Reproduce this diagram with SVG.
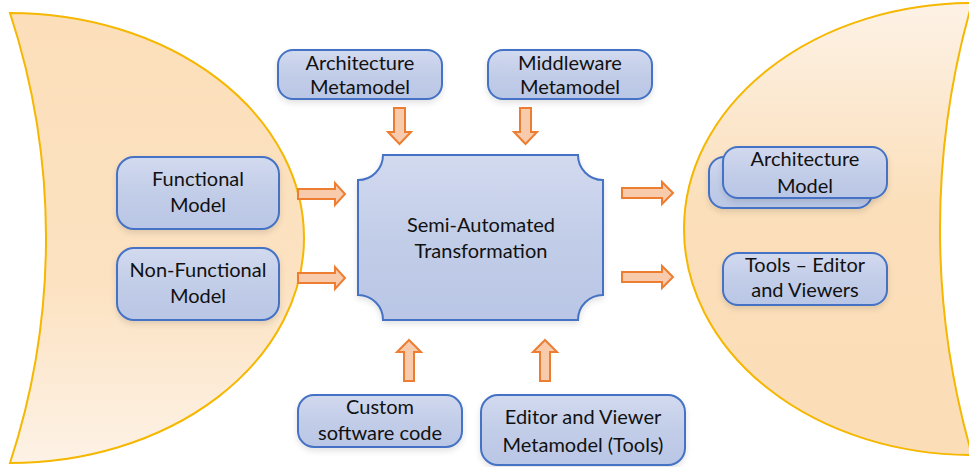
<svg xmlns="http://www.w3.org/2000/svg" width="969" height="467" viewBox="0 0 969 467">
<defs>
<linearGradient id="gL" x1="0" y1="0" x2="0" y2="1"><stop offset="0" stop-color="#fcdfba"/><stop offset="0.6" stop-color="#fce2c1"/><stop offset="1" stop-color="#fdf2e6"/></linearGradient>
<linearGradient id="gR" x1="0" y1="0" x2="0" y2="1"><stop offset="0" stop-color="#fdf2e6"/><stop offset="0.45" stop-color="#fbdfba"/><stop offset="1" stop-color="#fbdeb8"/></linearGradient>
<linearGradient id="gB" x1="0" y1="0" x2="0" y2="1"><stop offset="0" stop-color="#d2daef"/><stop offset="0.5" stop-color="#c2cde8"/><stop offset="1" stop-color="#b9c6e5"/></linearGradient>
<filter id="sh" x="-10%" y="-10%" width="120%" height="130%"><feGaussianBlur in="SourceAlpha" stdDeviation="3"/><feOffset dy="3"/><feComponentTransfer><feFuncA type="linear" slope="0.12"/></feComponentTransfer><feMerge><feMergeNode/><feMergeNode in="SourceGraphic"/></feMerge></filter>
</defs>
<style>
.crescent{stroke:#f5b700;stroke-width:2}
.box{fill:url(#gB);stroke:#4472c4;stroke-width:2;filter:url(#sh)}
.lbl{font-family:Lato,"Open Sans","Liberation Sans",sans-serif;font-size:20px;fill:#111;text-anchor:middle}
.arr{fill:#f8cbad;stroke:#ed7d31;stroke-width:2;stroke-linejoin:miter}
</style>
<g id="left-region">
<path class="crescent" fill="url(#gL)" d="M10 13 A294 225 0 0 1 10 463 A721 721 0 0 0 10 13 Z"/>
</g>
<g id="right-region">
<path class="crescent" fill="url(#gR)" d="M972 3 A288 226 0 0 0 972 455 A814 814 0 0 1 972 3 Z"/>
</g>
<g id="connectors">
<path class="arr" d="M298 189 H335 V183 L345 194 L335 205 V199 H298 Z"/>
<path class="arr" d="M298 273 H335 V267 L345 278 L335 289 V283 H298 Z"/>
<path class="arr" d="M622 188 H662 V182 L673 193 L662 204 V198 H622 Z"/>
<path class="arr" d="M622 272 H662 V266 L673 277 L662 288 V282 H622 Z"/>
<path class="arr" d="M394 108 H405 V132 H411 L399.5 144 L388 132 H394 Z"/>
<path class="arr" d="M520 108 H531 V132 H537 L525.5 144 L514 132 H520 Z"/>
<path class="arr" d="M404 381 H414 V352 H421 L409 340 L397 352 H404 Z"/>
<path class="arr" d="M540 381 H550 V352 H557 L545 340 L533 352 H540 Z"/>
</g>
<g id="functional-model">
<rect class="box" x="117" y="157" width="162" height="72" rx="17"/>
<text class="lbl" x="198" y="186">Functional</text>
<text class="lbl" x="198" y="212">Model</text>
</g>
<g id="non-functional-model">
<rect class="box" x="117" y="248" width="162" height="72" rx="17"/>
<text class="lbl" x="198" y="277">Non-Functional</text>
<text class="lbl" x="198" y="303">Model</text>
</g>
<g id="architecture-metamodel">
<rect class="box" x="278" y="50" width="164" height="49" rx="15"/>
<text class="lbl" x="360" y="70">Architecture</text>
<text class="lbl" x="360" y="94">Metamodel</text>
</g>
<g id="middleware-metamodel">
<rect class="box" x="488" y="50" width="164" height="49" rx="15"/>
<text class="lbl" x="570" y="70">Middleware</text>
<text class="lbl" x="570" y="94">Metamodel</text>
</g>
<g id="semi-automated-transformation">
<path class="box" d="M383 155 H578 A25 25 0 0 0 603 180 V295 A25 25 0 0 0 578 320 H383 A25 25 0 0 0 358 295 V180 A25 25 0 0 0 383 155 Z"/>
<text class="lbl" x="481" y="232">Semi-Automated</text>
<text class="lbl" x="481" y="258">Transformation</text>
</g>
<g id="custom-software-code">
<rect class="box" x="298" y="395" width="164" height="52" rx="16"/>
<text class="lbl" x="380" y="414">Custom</text>
<text class="lbl" x="380" y="440">software code</text>
</g>
<g id="editor-viewer-metamodel">
<rect class="box" x="481" y="395" width="204" height="70" rx="17"/>
<text class="lbl" x="583" y="424">Editor and Viewer</text>
<text class="lbl" x="583" y="452">Metamodel (Tools)</text>
</g>
<g id="architecture-model">
<rect class="box" x="709" y="157" width="163" height="51" rx="15"/>
<rect class="box" x="723" y="147" width="164" height="51" rx="15"/>
<text class="lbl" x="805" y="166">Architecture</text>
<text class="lbl" x="805" y="193">Model</text>
</g>
<g id="tools-editor-viewers">
<rect class="box" x="723" y="253" width="164" height="52" rx="15"/>
<text class="lbl" x="805" y="272">Tools – Editor</text>
<text class="lbl" x="805" y="297">and Viewers</text>
</g>
</svg>
